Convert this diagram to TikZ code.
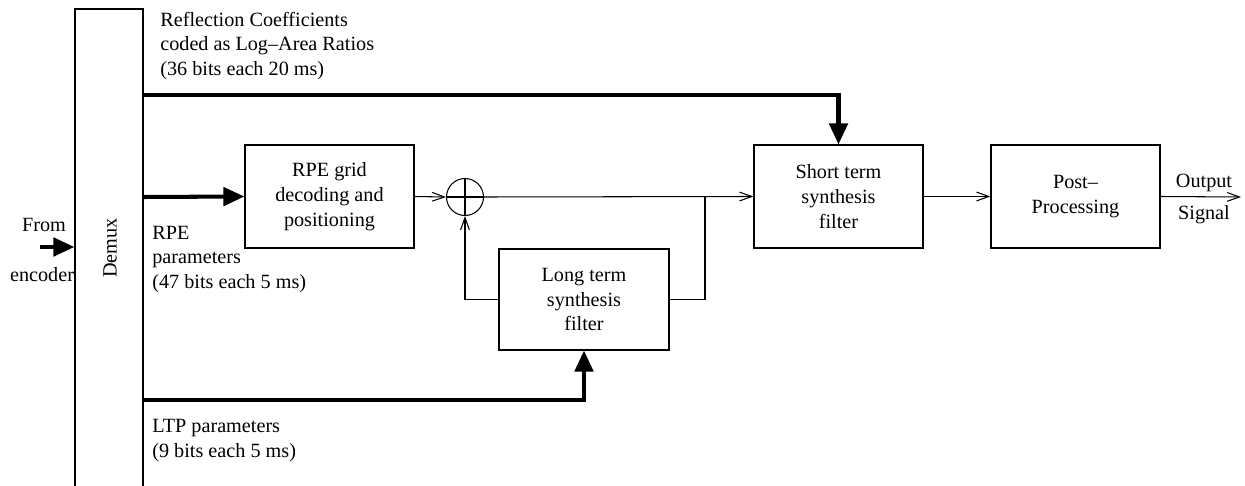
\documentclass[tikz,border=0pt]{standalone}
\usepackage{fontspec}
\setmainfont{Liberation Serif}
\usetikzlibrary{arrows.meta}
\begin{document}
\begin{tikzpicture}[x=0.02cm,y=-0.02cm,
  font=\fontsize{11.5}{14.2}\selectfont,
  blk/.style={draw,line width=0.7pt,minimum width=3.38cm,minimum height=2.06cm,inner sep=0pt,align=center},
  thin/.style={line width=0.6pt},
  thinarr/.style={line width=0.6pt,-{Straight Barb[length=7pt,width=5pt]}},
  thick arr/.style={line width=2.3pt,-{Triangle[length=12pt,width=10.5pt]}},
  lbl/.style={inner sep=0pt,align=left,anchor=west}]
\useasboundingbox (0,0) rectangle (1245,486);
% Demux
\node[draw,line width=0.7pt,minimum width=1.36cm,minimum height=9.82cm,inner sep=0pt] (demux) at (109,254.5) {};
\node[rotate=90,inner sep=0pt] (demuxlbl) at (110,248) {Demux};
% blocks
\node[blk] (rpe) at (329.5,196.5) {RPE grid\\decoding and\\positioning};
\node[blk] (short) at (838.5,196.5) {Short term\\synthesis\\filter};
\node[blk] (post) at (1075.5,196.5) {Post–\\Processing};
\node[blk,minimum width=3.4cm,minimum height=2.02cm] (long) at (584,299.5) {Long term\\synthesis\\filter};
\node[draw,circle,line width=0.6pt,minimum size=0.74cm,inner sep=0pt] (sum) at (465,197) {};
\draw[thin] (sum.north) -- (sum.south);
\draw[thin] (sum.west) -- (sum.east);
% coordinates
\coordinate (rc) at (143,95);
\coordinate (rp) at (143,197);
\coordinate (lt) at (143,400);
\coordinate (in) at (40,247);
\coordinate (br) at (705,197);
\coordinate (out) at (1241,197);
% thick connectors
\draw[thick arr] (rc) -| (short.north);
\draw[thick arr] (rp) -- (rpe.west);
\draw[thick arr] (lt) -| (long.south);
\draw[thick arr] (in) -- (in -| demux.west);
% thin connectors
\draw[thinarr] (rpe.east) -- (sum.west);
\draw[thinarr] (sum.east) -- (short.west);
\draw[thin] (br) |- (long.east);
\draw[thinarr] (long.west) -| (sum.south);
\draw[thinarr] (short.east) -- (post.west);
\draw[thinarr] (post.east) -- (out);
% labels
\node[lbl] (lrc) at (160,46) {Reflection Coefficients\\coded as Log–Area Ratios\\(36 bits each 20 ms)};
\node[lbl] (lrp) at (152,259.5) {RPE\\parameters\\(47 bits each 5 ms)};
\node[lbl] (llt) at (152,440.5) {LTP parameters\\(9 bits each 5 ms)};
\node[inner sep=0pt] (from) at (44,225) {From};
\node[inner sep=0pt] (enc) at (42,275) {encoder};
\node[inner sep=0pt] (outp) at (1204,183) {Output};
\node[inner sep=0pt] (sig) at (1204,215) {Signal};
\end{tikzpicture}
\end{document}
